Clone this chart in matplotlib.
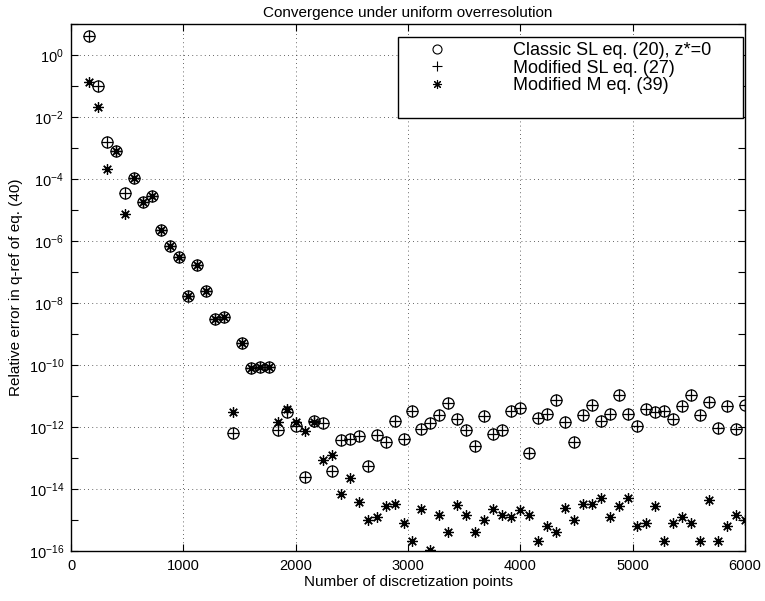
import matplotlib
matplotlib.use("Agg")
import matplotlib.pyplot as plt
from matplotlib.lines import Line2D
from matplotlib.patches import Rectangle
from matplotlib.ticker import FixedLocator, LogFormatterSciNotation, NullFormatter

plt.rcParams['font.family'] = ['Liberation Sans', 'DejaVu Sans']
plt.rcParams['mathtext.fontset'] = 'custom'
plt.rcParams['mathtext.rm'] = 'Liberation Sans'
plt.rcParams['mathtext.it'] = 'Liberation Sans:italic'
plt.rcParams['mathtext.bf'] = 'Liberation Sans:bold'

# Number of discretization points
n_points = [160, 240, 320, 400, 480, 560, 640, 720, 800, 880, 960, 1040, 1120, 1200,
            1280, 1360, 1440, 1520, 1600, 1680, 1760, 1840, 1920, 2000, 2080, 2160,
            2240, 2320, 2400, 2480, 2560, 2640, 2720, 2800, 2880, 2960, 3040, 3120,
            3200, 3280, 3360, 3440, 3520, 3600, 3680, 3760, 3840, 3920, 4000, 4080,
            4160, 4240, 4320, 4400, 4480, 4560, 4640, 4720, 4800, 4880, 4960, 5040,
            5120, 5200, 5280, 5360, 5440, 5520, 5600, 5680, 5760, 5840, 5920, 6000]

# Classic SL eq. (20), z*=0
classic_sl = [4.2e0, 1.0e-1, 1.6e-3, 7.8e-4, 3.5e-5, 1.05e-4, 1.8e-5, 2.75e-5, 2.2e-6,
              6.8e-7, 3.0e-7, 1.66e-8, 1.66e-7, 2.4e-8, 3.1e-9, 3.5e-9, 6.3e-13, 5.2e-10,
              8.3e-11, 8.7e-11, 8.7e-11, 7.9e-13, 2.95e-12, 1.07e-12, 2.4e-14, 1.58e-12,
              1.32e-12, 3.7e-14, 3.7e-13, 4.2e-13, 5.1e-13, 5.4e-14, 5.5e-13, 3.3e-13,
              1.58e-12, 4.1e-13, 3.3e-12, 8.5e-13, 1.35e-12, 2.4e-12, 5.75e-12, 1.86e-12,
              8.1e-13, 2.5e-13, 2.24e-12, 5.9e-13, 8.3e-13, 3.2e-12, 4.1e-12, 1.45e-13,
              2.0e-12, 2.6e-12, 7.4e-12, 1.5e-12, 3.2e-13, 2.4e-12, 5.0e-12, 1.58e-12,
              2.6e-12, 1.1e-11, 2.6e-12, 1.05e-12, 3.8e-12, 2.95e-12, 3.2e-12, 1.86e-12,
              4.8e-12, 1.07e-11, 2.5e-12, 6.3e-12, 9.5e-13, 4.8e-12, 8.5e-13, 5.0e-12]

# Modified SL eq. (27) (coincides with the classic values in the picture)
modified_sl = [4.2e0, 1.0e-1, 1.6e-3, 7.8e-4, 3.5e-5, 1.05e-4, 1.8e-5, 2.75e-5, 2.2e-6,
               6.8e-7, 3.0e-7, 1.66e-8, 1.66e-7, 2.4e-8, 3.1e-9, 3.5e-9, 6.3e-13, 5.2e-10,
               8.3e-11, 8.7e-11, 8.7e-11, 7.9e-13, 2.95e-12, 1.07e-12, 2.4e-14, 1.58e-12,
               1.32e-12, 3.7e-14, 3.7e-13, 4.2e-13, 5.1e-13, 5.4e-14, 5.5e-13, 3.3e-13,
               1.58e-12, 4.1e-13, 3.3e-12, 8.5e-13, 1.35e-12, 2.4e-12, 5.75e-12, 1.86e-12,
               8.1e-13, 2.5e-13, 2.24e-12, 5.9e-13, 8.3e-13, 3.2e-12, 4.1e-12, 1.45e-13,
               2.0e-12, 2.6e-12, 7.4e-12, 1.5e-12, 3.2e-13, 2.4e-12, 5.0e-12, 1.58e-12,
               2.6e-12, 1.1e-11, 2.6e-12, 1.05e-12, 3.8e-12, 2.95e-12, 3.2e-12, 1.86e-12,
               4.8e-12, 1.07e-11, 2.5e-12, 6.3e-12, 9.5e-13, 4.8e-12, 8.5e-13, 5.0e-12]

# Modified M eq. (39)
modified_m = [1.38e-1, 2.1e-2, 2.1e-4, 7.8e-4, 7.6e-6, 1.05e-4, 1.8e-5, 2.75e-5, 2.2e-6,
              6.8e-7, 3.0e-7, 1.66e-8, 1.66e-7, 2.4e-8, 3.1e-9, 3.5e-9, 2.95e-12, 5.2e-10,
              8.3e-11, 8.7e-11, 8.7e-11, 1.41e-12, 3.7e-12, 1.45e-12, 7.2e-13, 1.48e-12,
              8.7e-14, 1.26e-13, 6.9e-15, 2.3e-14, 3.9e-15, 1.02e-15, 1.26e-15, 2.9e-15,
              3.2e-15, 8.1e-16, 2.1e-16, 2.3e-15, 1.05e-16, 1.45e-15, 4.2e-16, 3.0e-15,
              1.45e-15, 4.2e-16, 1.02e-15, 2.3e-15, 1.45e-15, 1.29e-15, 2.1e-15, 1.45e-15,
              2.1e-16, 6.5e-16, 4.2e-16, 2.5e-15, 1.02e-15, 3.2e-15, 3.2e-15, 5.0e-15,
              1.29e-15, 2.75e-15, 5.0e-15, 6.5e-16, 7.9e-16, 2.9e-15, 2.1e-16, 7.9e-16,
              1.29e-15, 7.9e-16, 2.1e-16, 4.4e-15, 2.1e-16, 6.5e-16, 1.45e-15, 1.0e-15]

labels = ['Classic SL eq. (20), z*=0', 'Modified SL eq. (27)', 'Modified M eq. (39)']
x_ticks = [0, 1000, 2000, 3000, 4000, 5000, 6000]
y_major = [1e-16, 1e-14, 1e-12, 1e-10, 1e-8, 1e-6, 1e-4, 1e-2, 1e0]
y_minor = [1e-15, 1e-13, 1e-11, 1e-9, 1e-7, 1e-5, 1e-3, 1e-1, 1e1]

fig = plt.figure(figsize=(7.65, 6.01), dpi=100)
ax = fig.add_axes([71 / 765, 1 - 551 / 601, 674 / 765, 527 / 601])

asterisk = (8, 2, 0)
ax.plot(n_points, classic_sl, linestyle='none', marker='o', markersize=8,
        markerfacecolor='none', markeredgecolor='black', markeredgewidth=0.9)
ax.plot(n_points, modified_sl, linestyle='none', marker='+', markersize=8,
        color='black', markeredgewidth=0.9)
ax.plot(n_points, modified_m, linestyle='none', marker=asterisk, markersize=7.5,
        color='black', markeredgewidth=0.9)

ax.set_yscale('log')
ax.set_xlim(0, 6000)
ax.set_ylim(1e-16, 1e1)
ax.set_xticks(x_ticks)
ax.yaxis.set_major_locator(FixedLocator(y_major))
ax.yaxis.set_minor_locator(FixedLocator(y_minor))
ax.yaxis.set_major_formatter(LogFormatterSciNotation())
ax.yaxis.set_minor_formatter(NullFormatter())

ax.tick_params(axis='both', which='both', direction='in', top=True, right=True,
               length=5, width=0.8, labelsize=10.5, colors='black')
ax.tick_params(axis='x', pad=6)
ax.tick_params(axis='y', pad=5)
for s in ax.spines.values():
    s.set_linewidth(1.0)
    s.set_color('black')

ax.grid(True, which='major', linestyle=(0, (1, 4)), color='black', linewidth=0.6, alpha=0.8)
ax.set_axisbelow(True)

ax.set_title('Convergence under uniform overresolution', fontsize=11, pad=5)
ax.set_xlabel('Number of discretization points', fontsize=11, labelpad=1)
ax.set_ylabel('Relative error in q-ref of eq. (40)', fontsize=11, labelpad=4)

handles = [
    Line2D([], [], linestyle='none', marker='o', markersize=6.5, markerfacecolor='none',
           markeredgecolor='black', markeredgewidth=0.8),
    Line2D([], [], linestyle='none', marker='+', markersize=7, color='black',
           markeredgewidth=0.8),
    Line2D([], [], linestyle='none', marker=asterisk, markersize=6.5, color='black',
           markeredgewidth=0.8),
]
# legend box frame (MATLAB style, with extra space at the bottom)
ax_w, ax_h = 674.0, 527.0
box_left = (398 - 71) / ax_w
box_right = (743 - 71) / ax_w
box_top = 1 - (37 - 24) / ax_h
box_bottom = 1 - (118 - 24) / ax_h
frame = Rectangle((box_left, box_bottom), box_right - box_left, box_top - box_bottom,
                  transform=ax.transAxes, facecolor='white', edgecolor='black',
                  linewidth=1.0, zorder=4)
ax.add_patch(frame)

leg = ax.legend(handles, labels, loc='upper left',
                bbox_to_anchor=(box_left, 1 - (35 - 24) / ax_h),
                borderaxespad=0, fontsize=13, frameon=False,
                handlelength=3.5, handletextpad=2.45,
                labelspacing=0.02, borderpad=0.4)
leg.set_zorder(5)

fig.savefig('out.png', dpi=100)
